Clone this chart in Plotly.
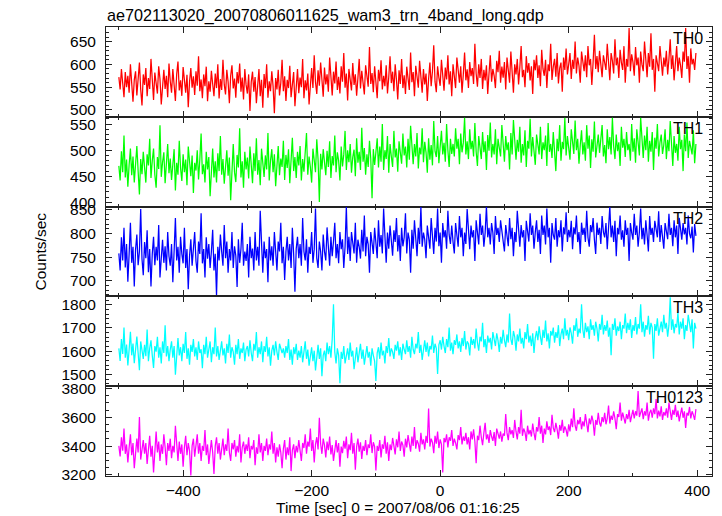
import plotly.graph_objects as go
from plotly.subplots import make_subplots

title_text = "ae702113020_20070806011625_wam3_trn_4band_long.qdp"
x_title = "Time [sec] 0 = 2007/08/06 01:16:25"
y_title = "Counts/sec"
band_names = ["TH0", "TH1", "TH2", "TH3", "TH0123"]
band_colors = ["#ff0000", "#00ff00", "#0000ff", "#00ffff", "#ff00ff"]
t_start = -500
t_step = 2

th0 = [
    572, 545, 590, 558, 528, 583, 550, 575, 538, 600, 548, 518, 566, 585, 532, 562, 604, 545, 510, 578, 555, 592, 530, 570, 546,
    612, 550, 522, 582, 561, 536, 596, 568, 512, 560, 588, 546, 575, 528, 602, 563, 538, 590, 552, 520, 579, 606, 543, 565, 531,
    594, 566, 538, 577, 506, 562, 592, 549, 574, 533, 585, 553, 618, 541, 567, 526, 578, 552, 595, 519, 563, 540, 586, 557, 530,
    580, 548, 600, 525, 568, 544, 610, 556, 534, 588, 562, 515, 575, 598, 547, 569, 527, 583, 558, 602, 540, 571, 523, 590, 555,
    536, 578, 498, 561, 584, 540, 572, 515, 557, 590, 530, 566, 505, 579, 548, 600, 527, 563, 541, 585, 552, 493, 570, 545, 588,
    532, 559, 610, 541, 574, 520, 566, 548, 597, 528, 562, 583, 508, 556, 590, 537, 571, 550, 612, 526, 565, 543, 580, 512, 558,
    592, 548, 620, 561, 535, 587, 553, 604, 570, 529, 593, 556, 578, 540, 615, 566, 532, 584, 558, 606, 544, 573, 536, 596, 562,
    625, 549, 580, 521, 590, 566, 543, 603, 555, 578, 531, 570, 612, 547, 586, 560, 534, 598, 574, 551, 638, 557, 581, 539, 596,
    568, 526, 588, 563, 609, 545, 575, 552, 598, 536, 572, 618, 559, 584, 541, 600, 566, 523, 587, 557, 612, 548, 576, 535, 595,
    570, 544, 626, 561, 583, 530, 597, 565, 549, 608, 575, 538, 590, 556, 580, 520, 568, 604, 552, 585, 642, 562, 539, 596, 571,
    553, 610, 578, 542, 593, 567, 620, 556, 585, 530, 600, 573, 548, 615, 582, 560, 596, 538, 578, 626, 565, 589, 548, 605, 574,
    592, 557, 645, 580, 551, 600, 570, 612, 546, 588, 565, 598, 535, 580, 620, 562, 590, 575, 548, 608, 583, 630, 560, 595, 571,
    605, 545, 615, 585, 560, 628, 592, 538, 600, 578, 612, 556, 594, 640, 572, 588, 550, 618, 582, 603, 565, 596, 535, 610, 587,
    620, 570, 598, 552, 632, 590, 575, 610, 548, 600, 585, 645, 566, 595, 612, 573, 625, 558, 592, 604, 540, 615, 588, 635, 578,
    600, 625, 568, 610, 590, 650, 580, 615, 597, 560, 628, 603, 585, 620, 572, 640, 598, 612, 555, 605, 665, 590, 618, 583, 630,
    600, 572, 620, 605, 588, 645, 595, 565, 625, 608, 580, 655, 598, 615, 570, 632, 604, 588, 640, 560, 612, 595, 680, 585, 622,
    605, 575, 638, 598, 615, 560, 628, 600, 585, 650, 610, 572, 625, 595, 668, 588, 612, 540, 620, 600, 585, 640, 603, 575, 615,
    595, 630, 578, 612, 655, 590, 620, 565, 605, 640, 585, 615, 598, 570, 628, 606, 680, 590, 618, 560, 635, 600, 612, 588, 625,
]

th1 = [
    470, 442, 498, 458, 528, 448, 482, 430, 472, 503, 452, 488, 438, 476, 508, 460, 415, 483, 454, 497, 466, 438, 492, 471, 522,
    447, 480, 503, 453, 428, 487, 464, 548, 449, 477, 496, 437, 472, 512, 456, 484, 443, 470, 502, 423, 476, 453, 518, 466, 441,
    492, 458, 482, 433, 507, 470, 450, 490, 418, 476, 461, 500, 444, 482, 532, 454, 473, 438, 497, 463, 487, 412, 471, 503, 448,
    479, 438, 494, 460, 527, 453, 483, 436, 471, 500, 451, 486, 404, 476, 512, 458, 439, 491, 467, 542, 448, 479, 428, 497, 463,
    486, 446, 507, 469, 437, 494, 460, 523, 453, 481, 433, 503, 470, 449, 490, 463, 533, 442, 480, 502, 458, 492, 431, 476, 508,
    452, 484, 468, 518, 443, 491, 466, 502, 437, 480, 524, 460, 487, 447, 497, 471, 508, 442, 483, 459, 497, 533, 453, 488, 468,
    438, 503, 474, 458, 521, 482, 401, 493, 463, 502, 477, 452, 499, 468, 517, 447, 489, 471, 528, 458, 496, 480, 442, 507, 469,
    492, 537, 462, 500, 477, 512, 457, 487, 501, 450, 523, 476, 497, 462, 543, 478, 504, 453, 492, 468, 518, 484, 408, 502, 472,
    496, 523, 467, 507, 478, 550, 462, 500, 483, 527, 457, 512, 488, 468, 537, 486, 503, 459, 517, 493, 474, 532, 490, 507, 467,
    522, 482, 547, 496, 473, 512, 488, 533, 465, 505, 492, 542, 477, 516, 496, 457, 523, 482, 510, 471, 556, 498, 487, 527, 475,
    507, 537, 492, 514, 478, 550, 500, 468, 522, 493, 512, 488, 542, 503, 522, 473, 532, 496, 514, 562, 492, 517, 483, 540, 502,
    518, 488, 552, 497, 470, 527, 507, 483, 535, 496, 517, 462, 529, 499, 553, 486, 512, 492, 540, 473, 522, 503, 488, 548, 510,
    478, 527, 500, 515, 463, 533, 492, 558, 505, 482, 520, 497, 545, 476, 512, 490, 538, 468, 518, 503, 560, 488, 525, 498, 472,
    530, 508, 492, 545, 483, 515, 500, 528, 470, 552, 497, 512, 485, 535, 505, 460, 522, 498, 548, 480, 516, 502, 562, 490, 527,
    505, 482, 540, 515, 493, 557, 500, 522, 474, 510, 538, 492, 515, 480, 548, 503, 528, 466, 521, 497, 555, 486, 512, 530, 495,
    518, 548, 488, 510, 475, 540, 502, 525, 492, 562, 507, 483, 530, 498, 515, 470, 545, 505, 522, 487, 535, 500, 512, 480, 550,
    497, 523, 476, 540, 505, 490, 562, 512, 485, 528, 500, 545, 478, 518, 497, 535, 462, 524, 503, 550, 488, 515, 530, 493, 510,
    540, 483, 520, 498, 556, 505, 470, 527, 495, 512, 480, 545, 502, 520, 460, 530, 498, 553, 485, 518, 507, 492, 538, 475, 512,
]

th2 = [
    758, 722, 792, 743, 812, 728, 778, 698, 757, 823, 738, 772, 688, 766, 798, 733, 762, 852, 746, 712, 782, 748, 807, 718, 767,
    688, 757, 793, 733, 772, 743, 818, 707, 762, 787, 738, 773, 722, 803, 752, 732, 778, 697, 763, 833, 743, 772, 717, 793, 757,
    737, 812, 727, 767, 682, 752, 788, 732, 772, 803, 742, 717, 783, 757, 843, 737, 767, 707, 792, 747, 778, 727, 762, 808, 722,
    757, 668, 772, 743, 798, 762, 732, 818, 748, 783, 717, 767, 743, 803, 727, 773, 753, 687, 788, 738, 767, 823, 732, 762, 742,
    778, 707, 793, 748, 768, 722, 803, 743, 772, 732, 848, 757, 717, 783, 748, 767, 697, 793, 743, 773, 732, 803, 757, 722, 783,
    762, 823, 737, 772, 702, 762, 793, 743, 778, 727, 812, 757, 677, 768, 793, 748, 778, 732, 833, 762, 743, 788, 717, 772, 757,
    803, 738, 767, 853, 748, 727, 783, 762, 722, 798, 762, 743, 813, 772, 732, 793, 752, 783, 823, 748, 778, 737, 803, 767, 788,
    727, 772, 857, 757, 793, 742, 803, 777, 758, 823, 738, 787, 772, 747, 808, 762, 838, 752, 793, 777, 717, 803, 783, 757, 812,
    783, 748, 828, 772, 797, 758, 853, 778, 738, 802, 768, 817, 792, 753, 807, 782, 833, 762, 797, 742, 812, 773, 792, 843, 758,
    802, 787, 717, 808, 768, 828, 792, 752, 812, 778, 857, 772, 802, 787, 748, 817, 792, 768, 833, 797, 757, 812, 783, 853, 773,
    802, 738, 822, 792, 807, 768, 848, 797, 778, 817, 783, 758, 822, 802, 772, 837, 792, 812, 752, 802, 778, 852, 797, 767, 817,
    792, 807, 742, 828, 802, 777, 842, 797, 817, 772, 802, 857, 792, 812, 777, 822, 802, 757, 837, 797, 812, 782, 828, 803, 792,
    762, 818, 797, 773, 833, 788, 812, 752, 803, 782, 848, 797, 772, 818, 792, 807, 742, 827, 802, 783, 843, 797, 817, 768, 803,
    828, 782, 808, 757, 838, 797, 817, 777, 853, 792, 812, 738, 822, 797, 787, 833, 772, 807, 792, 828, 762, 813, 798, 845, 782,
    808, 792, 827, 767, 813, 798, 838, 782, 803, 757, 823, 797, 812, 782, 848, 792, 772, 818, 803, 833, 787, 757, 823, 797, 812,
    778, 837, 803, 792, 822, 767, 808, 857, 792, 817, 782, 827, 752, 812, 798, 838, 787, 807, 772, 828, 797, 812, 742, 822, 802,
    787, 842, 797, 817, 772, 803, 853, 788, 812, 777, 828, 797, 762, 837, 797, 812, 782, 827, 803, 792, 847, 782, 818, 797, 768,
    822, 803, 788, 842, 797, 812, 773, 828, 792, 817, 757, 833, 803, 787, 822, 798, 812, 777, 838, 800, 790, 815, 760, 820, 795,
]

th3 = [
    1612, 1558, 1652, 1588, 1702, 1572, 1628, 1538, 1607, 1683, 1582, 1633, 1548, 1617, 1663, 1592, 1518, 1642, 1598, 1567, 1627, 1578, 1693, 1557, 1612,
    1647, 1582, 1528, 1622, 1598, 1662, 1572, 1617, 1547, 1642, 1592, 1712, 1577, 1622, 1557, 1607, 1642, 1572, 1622, 1498, 1602, 1657, 1582, 1617, 1557,
    1632, 1592, 1682, 1567, 1612, 1542, 1627, 1597, 1652, 1577, 1617, 1562, 1642, 1592, 1608, 1527, 1627, 1587, 1662, 1572, 1607, 1642, 1552, 1617, 1587,
    1702, 1577, 1622, 1562, 1607, 1642, 1582, 1612, 1547, 1632, 1592, 1672, 1572, 1617, 1597, 1542, 1627, 1587, 1652, 1567, 1612, 1592, 1637, 1557, 1607,
    1622, 1577, 1647, 1592, 1557, 1632, 1602, 1682, 1572, 1617, 1587, 1642, 1552, 1622, 1597, 1662, 1577, 1617, 1537, 1602, 1627, 1582, 1642, 1597, 1562,
    1632, 1607, 1592, 1612, 1572, 1622, 1592, 1652, 1562, 1607, 1542, 1617, 1587, 1632, 1562, 1602, 1572, 1622, 1552, 1597, 1642, 1567, 1607, 1537, 1592,
    1617, 1557, 1602, 1517, 1587, 1627, 1567, 1612, 1492, 1582, 1602, 1557, 1637, 1587, 1622, 1572, 1652, 1802, 1597, 1547, 1612, 1582, 1462, 1597, 1567,
    1622, 1547, 1592, 1612, 1562, 1637, 1577, 1602, 1522, 1587, 1617, 1552, 1597, 1632, 1567, 1607, 1542, 1587, 1622, 1572, 1597, 1537, 1612, 1582, 1557,
    1472, 1592, 1617, 1567, 1637, 1582, 1602, 1547, 1622, 1592, 1657, 1577, 1612, 1597, 1567, 1627, 1602, 1642, 1582, 1617, 1562, 1632, 1607, 1587, 1647,
    1597, 1622, 1572, 1662, 1607, 1587, 1632, 1612, 1682, 1592, 1627, 1562, 1617, 1647, 1597, 1637, 1577, 1622, 1607, 1667, 1592, 1632, 1612, 1502, 1627,
    1647, 1607, 1662, 1622, 1592, 1652, 1617, 1702, 1602, 1637, 1587, 1647, 1627, 1672, 1612, 1642, 1597, 1657, 1622, 1687, 1607, 1642, 1632, 1582, 1662,
    1627, 1652, 1612, 1697, 1637, 1602, 1662, 1642, 1722, 1617, 1652, 1592, 1667, 1637, 1657, 1607, 1682, 1642, 1622, 1677, 1647, 1597, 1662, 1632, 1692,
    1647, 1617, 1672, 1637, 1762, 1652, 1627, 1687, 1662, 1602, 1672, 1642, 1697, 1632, 1657, 1612, 1682, 1652, 1717, 1637, 1667, 1622, 1677, 1592, 1657,
    1687, 1647, 1707, 1662, 1627, 1692, 1657, 1732, 1642, 1677, 1612, 1687, 1667, 1702, 1637, 1682, 1657, 1712, 1622, 1672, 1697, 1652, 1742, 1667, 1692,
    1647, 1702, 1677, 1632, 1712, 1687, 1742, 1662, 1697, 1677, 1802, 1692, 1657, 1722, 1682, 1707, 1652, 1737, 1692, 1712, 1667, 1727, 1697, 1642, 1717,
    1692, 1757, 1672, 1712, 1687, 1732, 1662, 1702, 1582, 1717, 1692, 1742, 1667, 1707, 1687, 1727, 1652, 1712, 1697, 1762, 1677, 1722, 1692, 1737, 1657,
    1712, 1687, 1747, 1672, 1717, 1697, 1802, 1682, 1727, 1662, 1712, 1692, 1752, 1672, 1722, 1702, 1567, 1717, 1687, 1742, 1667, 1707, 1727, 1682, 1757,
    1697, 1722, 1662, 1712, 1832, 1692, 1737, 1677, 1717, 1702, 1767, 1672, 1727, 1697, 1742, 1652, 1712, 1687, 1757, 1707, 1682, 1737, 1612, 1722, 1697,
]

th0123 = [
    3402, 3328, 3462, 3368, 3522, 3347, 3412, 3287, 3392, 3482, 3337, 3422, 3247, 3382, 3452, 3357, 3602, 3307, 3402, 3442, 3347, 3422, 3277, 3392, 3472,
    3327, 3402, 3217, 3382, 3502, 3357, 3432, 3297, 3412, 3347, 3482, 3392, 3267, 3422, 3367, 3452, 3317, 3402, 3357, 3542, 3377, 3297, 3432, 3347, 3412,
    3257, 3392, 3472, 3337, 3422, 3367, 3197, 3402, 3452, 3327, 3392, 3482, 3347, 3422, 3297, 3402, 3367, 3512, 3337, 3412, 3277, 3382, 3442, 3357, 3207,
    3402, 3462, 3347, 3422, 3307, 3392, 3452, 3337, 3412, 3367, 3522, 3357, 3297, 3422, 3377, 3442, 3327, 3402, 3357, 3482, 3287, 3392, 3432, 3347, 3412,
    3367, 3462, 3317, 3402, 3377, 3442, 3267, 3392, 3347, 3482, 3357, 3422, 3297, 3402, 3367, 3452, 3337, 3412, 3377, 3502, 3347, 3422, 3287, 3392, 3327,
    3412, 3357, 3247, 3382, 3442, 3307, 3392, 3337, 3462, 3227, 3372, 3412, 3317, 3402, 3357, 3442, 3377, 3297, 3422, 3387, 3482, 3347, 3432, 3397, 3522,
    3367, 3442, 3287, 3412, 3462, 3377, 3597, 3417, 3347, 3452, 3407, 3322, 3432, 3372, 3467, 3342, 3407, 3297, 3387, 3442, 3357, 3422, 3257, 3397, 3352,
    3437, 3382, 3467, 3317, 3412, 3372, 3492, 3347, 3422, 3237, 3397, 3452, 3362, 3427, 3312, 3402, 3367, 3442, 3337, 3412, 3387, 3482, 3352, 3427, 3397,
    3232, 3402, 3367, 3442, 3322, 3412, 3382, 3472, 3347, 3427, 3297, 3412, 3372, 3457, 3402, 3342, 3447, 3392, 3502, 3367, 3432, 3407, 3327, 3452, 3392,
    3477, 3417, 3362, 3467, 3402, 3532, 3382, 3442, 3417, 3362, 3492, 3412, 3447, 3377, 3472, 3422, 3662, 3397, 3452, 3427, 3352, 3472, 3417, 3502, 3387,
    3447, 3412, 3217, 3457, 3427, 3482, 3392, 3462, 3437, 3512, 3402, 3452, 3422, 3377, 3477, 3442, 3532, 3412, 3467, 3437, 3492, 3412, 3462, 3377, 3502,
    3447, 3517, 3432, 3282, 3472, 3442, 3542, 3462, 3407, 3492, 3562, 3447, 3482, 3422, 3512, 3467, 3437, 3497, 3402, 3522, 3477, 3452, 3502, 3432, 3487,
    3472, 3622, 3492, 3442, 3532, 3482, 3512, 3457, 3582, 3502, 3447, 3532, 3487, 3652, 3472, 3522, 3497, 3437, 3542, 3482, 3512, 3467, 3557, 3492, 3442,
    3532, 3502, 3602, 3487, 3542, 3422, 3522, 3482, 3572, 3512, 3537, 3477, 3617, 3527, 3497, 3562, 3517, 3452, 3547, 3507, 3582, 3492, 3537, 3512, 3467,
    3552, 3502, 3592, 3532, 3662, 3542, 3507, 3582, 3552, 3602, 3517, 3572, 3537, 3622, 3562, 3497, 3592, 3552, 3612, 3572, 3472, 3582, 3547, 3632, 3562,
    3537, 3602, 3567, 3632, 3552, 3592, 3682, 3557, 3612, 3582, 3642, 3592, 3517, 3622, 3602, 3702, 3577, 3632, 3597, 3557, 3622, 3587, 3652, 3567, 3612,
    3652, 3592, 3642, 3612, 3782, 3602, 3632, 3662, 3587, 3642, 3612, 3702, 3577, 3632, 3652, 3597, 3662, 3622, 3727, 3592, 3647, 3607, 3677, 3582, 3637,
    3612, 3662, 3597, 3702, 3627, 3582, 3652, 3617, 3687, 3602, 3647, 3572, 3622, 3667, 3597, 3642, 3527, 3632, 3612, 3672, 3592, 3642, 3617, 3582, 3657,
]

series = [th0, th1, th2, th3, th0123]
y_ranges = [[485, 682], [392, 564], [667, 857], [1449, 1836], [3193, 3816]]
y_dticks = [50, 50, 50, 100, 200]
y_minor = [10, 10, 10, 20, 50]
x_range = [-520, 423]

FONT = "Liberation Sans, Arial, Helvetica, sans-serif"

fig = make_subplots(rows=5, cols=1, shared_xaxes=True, vertical_spacing=0)

for k, vals in enumerate(series):
    tt = [t_start + t_step * i for i in range(len(vals))]
    fig.add_trace(
        go.Scatter(x=tt, y=vals, mode="lines", line=dict(color=band_colors[k], width=1.25),
                   showlegend=False, hoverinfo="skip"),
        row=k + 1, col=1,
    )
    fig.update_yaxes(
        range=y_ranges[k], dtick=y_dticks[k], tick0=0,
        ticks="inside", ticklen=6, tickcolor="#222", tickwidth=1,
        minor=dict(dtick=y_minor[k], ticks="inside", ticklen=3, tickcolor="#222", showgrid=False),
        showline=True, linecolor="#222", linewidth=1, mirror="allticks",
        showgrid=False, zeroline=False,
        ticklabelstandoff=6,
        tickfont=dict(family=FONT, size=15.5, color="black"),
        row=k + 1, col=1,
    )
    fig.update_xaxes(
        range=x_range, dtick=200, tick0=0,
        ticks="inside", ticklen=6, tickcolor="#222", tickwidth=1,
        minor=dict(dtick=100, ticks="inside", ticklen=3, tickcolor="#222", showgrid=False),
        showline=True, linecolor="#222", linewidth=1, mirror="allticks",
        showgrid=False, zeroline=False,
        showticklabels=(k == 4),
        tickfont=dict(family=FONT, size=15.5, color="black"),
        row=k + 1, col=1,
    )
    yref = "y domain" if k == 0 else f"y{k+1} domain"
    fig.add_annotation(
        x=1, y=1, xref="paper", yref=yref, xanchor="right", yanchor="top",
        xshift=-7, yshift=-1, text=band_names[k], showarrow=False,
        font=dict(family=FONT, size=16, color="black"),
    )

fig.add_annotation(x=0, y=1, xref="paper", yref="paper", xanchor="left", yanchor="middle",
                   xshift=-1, yshift=12, text=title_text, showarrow=False,
                   font=dict(family=FONT, size=16.2, color="black"))
fig.add_annotation(x=0.5, y=0, xref="paper", yref="paper", xanchor="center", yanchor="middle",
                   yshift=-31, xshift=-11, text=x_title, showarrow=False,
                   font=dict(family=FONT, size=15.5, color="black"))
fig.add_annotation(x=0, y=0.5, xref="paper", yref="paper", xanchor="center", yanchor="middle",
                   xshift=-66, text=y_title, textangle=-90, showarrow=False,
                   font=dict(family=FONT, size=15.5, color="black"))

fig.update_layout(
    width=722, height=516,
    margin=dict(l=106, r=10, t=27, b=40),
    paper_bgcolor="white", plot_bgcolor="white",
    font=dict(family=FONT, color="black"),
)

fig.write_html(
    "out.html",
    config={"displayModeBar": False},
    post_script="document.body.style.margin='0';document.body.style.padding='0';document.body.style.overflow='hidden';",
)
